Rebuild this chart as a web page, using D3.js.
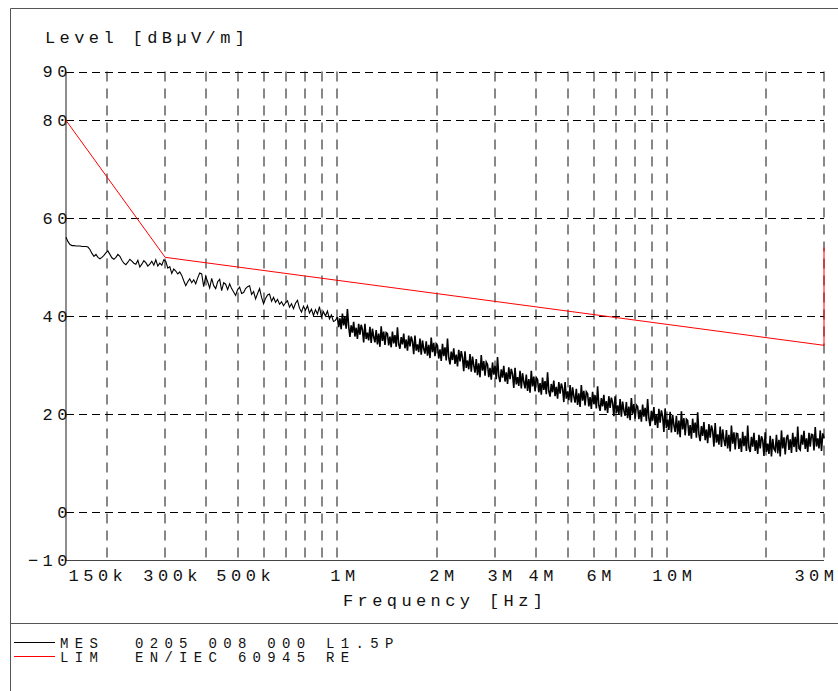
<!DOCTYPE html>
<html>
<head>
<meta charset="utf-8">
<script src="https://cdn.jsdelivr.net/npm/d3@7"></script>
<style>
    body { margin: 0; background: #fff; }
    svg { display: block; }
    text { font-family: "Courier New", "Nimbus Mono PS", "FreeMono", "Liberation Mono", monospace; fill: #111; }
</style>
</head>
<body>
<script>
// axis ticks and grid
var xTickHz = [150e3, 300e3, 500e3, 1e6, 2e6, 3e6, 4e6, 6e6, 10e6, 30e6],
    xTickLabels = ["150k", "300k", "500k", "1M", "2M", "3M", "4M", "6M", "10M", "30M"],
    xGridHz = [2e5, 3e5, 4e5, 5e5, 6e5, 7e5, 8e5, 9e5, 1e6, 2e6, 3e6, 4e6, 5e6, 6e6, 7e6, 8e6, 9e6, 1e7, 2e7, 3e7],
    yTicks = [90, 80, 60, 40, 20, 0, -10],
    yGrid = [90, 80, 60, 40, 20, 0];

// limit line EN/IEC 60945 radiated emission
var limHz = [150e3, 300e3, 30e6, 30e6],
    limLevel = [80, 52, 34, 54];

// measured trace, two log sweeps: 150k..1M and 1M..30M
var mesLowStartHz = 150e3,
    mesLowStopHz = 1e6;
var mesLowLevel = [
    56.1, 55.2, 54.6, 54.4, 54.4, 54.3, 54.3, 54.3, 54.2, 54.2, 54.2, 54.1, 53.6, 52.8, 52.2, 52.6, 52.0, 51.7, 52.0, 52.4,
    52.9, 53.3, 52.6, 51.9, 51.6, 52.0, 52.6, 52.2, 51.4, 50.8, 50.5, 51.0, 51.6, 51.2, 50.8, 50.6, 51.4, 50.0, 50.6, 51.3,
    50.9, 50.2, 50.6, 51.2, 50.4, 51.5, 50.2, 50.8, 50.4, 51.5, 51.2, 49.8, 50.1, 48.7, 49.6, 49.2, 48.6, 49.0, 48.3, 47.2,
    46.2, 47.0, 47.6, 46.8, 47.4, 46.6, 47.8, 48.8, 48.6, 46.0, 48.1, 47.0, 45.7, 47.7, 46.2, 45.6, 47.0, 47.5, 45.2, 46.8,
    46.5, 45.4, 46.6, 45.6, 44.9, 44.2, 45.4, 45.9, 44.6, 44.8, 45.6, 46.0, 46.2, 44.4, 45.0, 43.5, 44.6, 45.6, 43.8, 42.5,
    43.6, 44.3, 44.5, 43.0, 43.8, 42.8, 43.4, 42.4, 42.9, 42.1, 42.7, 43.1, 41.8, 42.5, 41.5, 42.6, 43.2, 41.6, 40.8, 42.0,
    41.2, 42.1, 40.6, 41.4, 40.1, 41.3, 40.4, 41.9, 39.8, 40.9, 40.0, 41.0, 39.4, 40.2, 38.9, 39.1, 39.8
];

var mesHighStartHz = 1e6,
    mesHighStopHz = 30e6;
var mesHighLevel = [
    39.8, 37.7, 39.5, 37.3, 40.5, 38.1, 39.8, 37.4, 41.4, 37.9,
    35.7, 38.1, 36.6, 38.8, 35.8, 37.6, 35.3, 38.4, 36.2, 38.2,
    37.2, 34.6, 38.4, 35.3, 36.6, 35.0, 37.8, 34.5, 37.4, 35.7,
    34.6, 37.1, 34.2, 36.4, 33.7, 37.9, 34.9, 36.8, 34.1, 36.6,
    36.4, 34.0, 35.8, 33.6, 36.8, 34.4, 36.1, 33.7, 37.7, 34.2,
    33.3, 35.7, 34.2, 36.4, 33.4, 35.2, 32.9, 36.0, 33.8, 35.8,
    34.8, 32.2, 36.0, 32.9, 34.2, 32.6, 35.4, 32.1, 35.0, 33.3,
    32.3, 34.8, 31.9, 34.1, 31.4, 35.6, 32.6, 34.5, 31.8, 34.3,
    33.9, 31.3, 33.2, 30.8, 34.3, 31.8, 33.6, 30.9, 35.4, 31.5,
    30.1, 32.7, 31.0, 33.4, 30.2, 32.1, 29.7, 33.1, 30.7, 32.8,
    31.5, 28.7, 32.8, 29.4, 30.9, 29.1, 32.2, 28.6, 31.7, 29.9,
    28.4, 31.2, 27.9, 30.3, 27.5, 32.0, 28.8, 30.8, 27.8, 30.6,
    30.1, 27.5, 29.4, 27.0, 30.5, 28.0, 29.8, 27.1, 31.6, 27.7,
    26.5, 29.1, 27.4, 29.8, 26.6, 28.5, 26.1, 29.5, 27.1, 29.2,
    28.1, 25.3, 29.4, 26.0, 27.5, 25.7, 28.8, 25.2, 28.3, 26.5,
    25.2, 28.0, 24.7, 27.1, 24.3, 28.8, 25.6, 27.6, 24.6, 27.4,
    27.0, 24.4, 26.3, 23.9, 27.4, 24.9, 26.7, 24.0, 28.5, 24.6,
    23.5, 26.1, 24.4, 26.8, 23.6, 25.5, 23.1, 26.5, 24.1, 26.2,
    25.2, 22.4, 26.5, 23.1, 24.6, 22.8, 25.9, 22.3, 25.4, 23.6,
    22.3, 25.1, 21.8, 24.2, 21.4, 25.9, 22.7, 24.7, 21.7, 24.5,
    24.1, 21.5, 23.4, 21.0, 24.5, 22.0, 23.8, 21.1, 25.6, 21.7,
    20.6, 23.2, 21.5, 23.9, 20.7, 22.6, 20.2, 23.6, 21.2, 23.3,
    22.3, 19.5, 23.6, 20.2, 21.7, 19.9, 23.0, 19.4, 22.5, 20.7,
    19.6, 22.4, 19.1, 21.5, 18.7, 23.2, 20.0, 22.0, 19.0, 21.8,
    21.5, 18.9, 20.8, 18.4, 21.9, 19.4, 21.2, 18.5, 23.0, 19.1,
    17.5, 20.6, 18.6, 21.4, 17.7, 19.9, 17.1, 21.0, 18.2, 20.7,
    19.5, 16.3, 21.1, 17.1, 18.8, 16.7, 20.4, 16.2, 19.8, 17.7,
    16.3, 19.6, 15.8, 18.6, 15.2, 20.5, 16.8, 19.1, 15.6, 18.9,
    18.6, 15.5, 17.7, 14.9, 19.0, 16.1, 18.2, 15.1, 20.3, 15.8,
    14.4, 17.5, 15.5, 18.3, 14.6, 16.8, 14.0, 17.9, 15.1, 17.6,
    16.5, 13.3, 18.1, 14.1, 15.8, 13.7, 17.4, 13.2, 16.8, 14.7,
    13.4, 16.7, 12.9, 15.7, 12.3, 17.6, 13.9, 16.2, 12.7, 16.0,
    15.9, 12.8, 15.0, 12.2, 16.3, 13.4, 15.5, 12.4, 17.6, 13.1,
    12.2, 15.3, 13.3, 16.1, 12.4, 14.6, 11.8, 15.7, 12.9, 15.4,
    14.6, 11.4, 16.2, 12.2, 13.9, 11.8, 15.5, 11.3, 14.9, 12.8,
    12.4, 15.7, 11.9, 14.7, 11.3, 16.6, 12.9, 15.2, 11.7, 15.0,
    15.7, 12.6, 14.8, 12.0, 16.1, 13.2, 15.3, 12.2, 17.4, 12.9,
    12.6, 15.7, 13.7, 16.5, 12.8, 15.0, 12.2, 16.1, 13.3, 15.8,
    15.7, 12.5, 17.3, 13.3, 15.0, 12.9, 16.6, 12.4, 16.0, 15.0
];

var legendNames = ["MES", "LIM"],
    legendTexts = ["0205 008 000 L1.5P", "EN/IEC 60945 RE"],
    legendColors = ["#000", "#ff0000"];

var width = 838,
    height = 691,
    plot = { left: 66, right: 824, top: 71.5, bottom: 560.5 };

var svg = d3.select("body").append("svg")
    .attr("width", width)
    .attr("height", height);

var x = d3.scaleLog().domain([mesLowStartHz, mesHighStopHz]).range([plot.left, plot.right]),
    y = d3.scaleLinear().domain([-10, 90]).range([plot.bottom, plot.top]);

// outer frame and legend separator
svg.append("path")
    .attr("d", "M10.5," + height + "V8.5H" + width)
    .attr("fill", "none")
    .attr("stroke", "#555");
svg.append("line")
    .attr("x1", 10).attr("x2", width)
    .attr("y1", 623.5).attr("y2", 623.5)
    .attr("stroke", "#555");

// grid
svg.append("g").selectAll("line")
    .data(yGrid)
    .join("line")
    .attr("x1", plot.left).attr("x2", plot.right)
    .attr("y1", function (d) { return Math.round(y(d)) + 0.5; })
    .attr("y2", function (d) { return Math.round(y(d)) + 0.5; })
    .attr("stroke", "#000")
    .attr("stroke-dasharray", "8,5");

svg.append("g").selectAll("line")
    .data(xGridHz)
    .join("line")
    .attr("x1", function (d) { return Math.round(x(d)); })
    .attr("x2", function (d) { return Math.round(x(d)); })
    .attr("y1", plot.top).attr("y2", plot.bottom)
    .attr("stroke", "#111")
    .attr("stroke-dasharray", "10,7");

// axes lines
svg.append("path")
    .attr("d", "M" + plot.left + "," + plot.top + "V" + plot.bottom + "H" + plot.right)
    .attr("fill", "none")
    .attr("stroke", "#444")
    .attr("stroke-width", 1.2);

// tick labels
var yAxis = d3.axisLeft(y).tickValues(yTicks).tickSize(0).tickPadding(0);
var gy = svg.append("g")
    .attr("transform", "translate(72,0)")
    .call(yAxis);
gy.select(".domain").remove();
gy.selectAll("text")
    .attr("font-size", 17)
    .attr("letter-spacing", 4.5)
    .attr("fill", "#111")
    .attr("font-family", null);

var xAxis = d3.axisBottom(x).tickValues(xTickHz).tickSize(0).tickPadding(0)
    .tickFormat(function (d, i) { return xTickLabels[i]; });
var gx = svg.append("g")
    .attr("transform", "translate(0,569)")
    .call(xAxis);
gx.select(".domain").remove();
gx.selectAll("text")
    .attr("font-size", 17)
    .attr("letter-spacing", 4.5)
    .attr("fill", "#111")
    .attr("font-family", null)
    .attr("dy", "0.71em")
    .attr("dx", 7)
    .each(function (d, i) {
        var t = d3.select(this);
        if (i === 0) {
            t.attr("text-anchor", "start").attr("dx", 2);
        } else if (i === xTickHz.length - 1) {
            t.attr("text-anchor", "end").attr("dx", 14);
        }
    });

// axis titles
svg.append("text")
    .attr("x", 45).attr("y", 43)
    .attr("font-size", 17)
    .attr("letter-spacing", 4.4)
    .text("Level [dBµV/m]");

svg.append("text")
    .attr("x", 343).attr("y", 606)
    .attr("font-size", 17)
    .attr("letter-spacing", 4.4)
    .text("Frequency [Hz]");

// traces
function sweep(levels, f0, f1) {
    var n = levels.length;
    return levels.map(function (v, i) {
        return [f0 * Math.pow(f1 / f0, i / (n - 1)), v];
    });
}
var mesLow = sweep(mesLowLevel, mesLowStartHz, mesLowStopHz),
    mesHigh = sweep(mesHighLevel, mesHighStartHz, mesHighStopHz);
mesHigh.unshift(mesLow[mesLow.length - 1]);
var lim = limHz.map(function (f, i) { return [f, limLevel[i]]; });

var line = d3.line()
    .x(function (d) { return x(d[0]); })
    .y(function (d) { return y(d[1]); });

// the dense part of the sweep is drawn a bit heavier, like the plotter output
svg.append("path")
    .datum(mesLow)
    .attr("d", line)
    .attr("fill", "none")
    .attr("stroke", "#000")
    .attr("stroke-width", 1.1);

svg.append("path")
    .datum(mesHigh)
    .attr("d", line)
    .attr("fill", "none")
    .attr("stroke", "#000")
    .attr("stroke-width", 1.6);

svg.append("path")
    .datum(lim)
    .attr("d", line)
    .attr("fill", "none")
    .attr("stroke", "#ff0000")
    .attr("stroke-width", 1);

// legend
var legend = svg.append("g").selectAll("g")
    .data(legendNames)
    .join("g")
    .attr("transform", function (d, i) { return "translate(0," + (642.5 + i * 14) + ")"; });

legend.append("line")
    .attr("x1", 14).attr("x2", 55)
    .attr("stroke", function (d, i) { return legendColors[i]; });

legend.append("text")
    .attr("x", 60).attr("y", 5)
    .attr("font-size", 14)
    .attr("letter-spacing", 6.3)
    .text(function (d) { return d; });

legend.append("text")
    .attr("x", 135).attr("y", 5)
    .attr("font-size", 14)
    .attr("letter-spacing", 6.3)
    .text(function (d, i) { return legendTexts[i]; });
</script>
</body>
</html>
